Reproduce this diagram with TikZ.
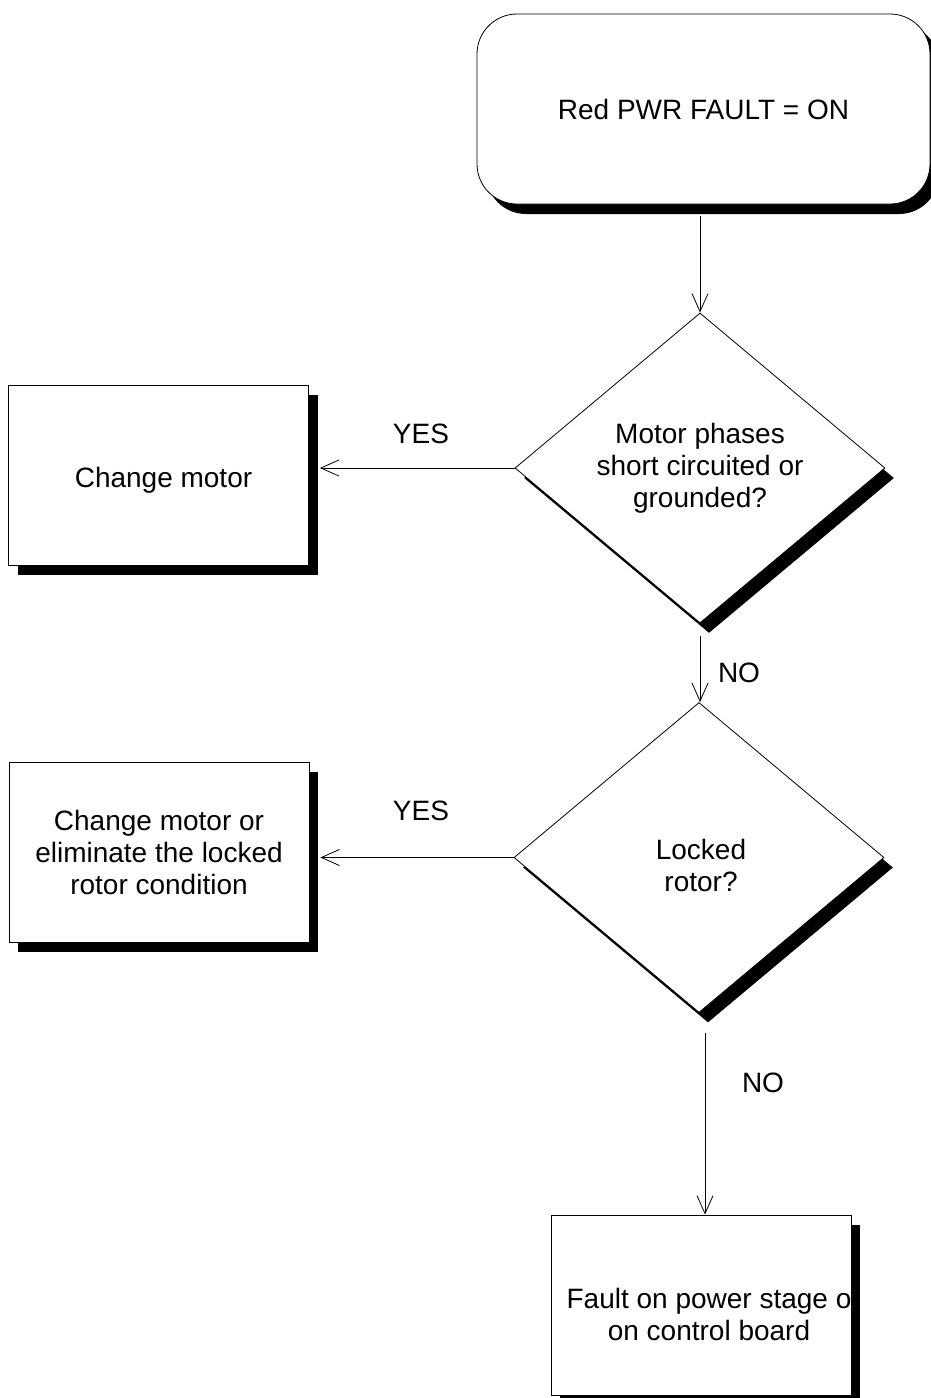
\documentclass[tikz,border=0pt]{standalone}
\usepackage{fontspec}
\setmainfont{Liberation Sans}
\usetikzlibrary{arrows.meta,calc,positioning,shapes.geometric,shadows}

\begin{document}
\begin{tikzpicture}[
    x=1pt, y=-1pt,
    font=\fontsize{28}{32}\selectfont,
    dropped/.style={drop shadow={shadow xshift=9pt, shadow yshift=-10pt,
                    fill=black, opacity=1}},
    process/.style={draw, line width=0.8pt, fill=white, dropped, align=center,
                    minimum width=300pt, minimum height=180pt, inner sep=0pt},
    terminal/.style={process, rounded corners=40pt, minimum width=453pt,
                     minimum height=190pt},
    decision/.style={diamond, draw, line width=0.8pt, fill=white, dropped,
                     shape aspect=1.2, inner sep=0pt, align=center,
                     minimum width=370pt, minimum height=310pt},
    arrow/.style={-{Straight Barb[length=18pt, width=16pt]}, line width=0.8pt},
    answer/.style={inner sep=0pt},
    inside/.style={align=center, inner sep=0pt}
]
\useasboundingbox (0,0) rectangle (931,1398);

\node[terminal] (start) at (703.5,109) {Red PWR FAULT = ON};
\node[decision] (phases) at (700,468)
    {Motor phases\\short circuited or\\grounded?};
\node[process, label={[inside, name=chgmotortext, xshift=5pt, yshift=-5pt]
    center:Change motor}] (chgmotor) at (158.5,475) {};
\node[decision, label={[inside, name=lockedtext, xshift=2pt, yshift=-8pt]
    center:Locked\\rotor?}] (locked) at (699,857.5) {};
\node[process] (chglocked) at (159,852)
    {Change motor or\\eliminate the locked\\rotor condition};
\node[process, label={[inside, name=faulttext, xshift=8pt, yshift=-9pt]
    center:Fault on power stage o\\on control board}] (fault) at (701,1305) {};

\node[answer] (yes1) at (421,434) {YES};
\node[answer] (no1) at (739,673) {NO};
\node[answer] (yes2) at (421,811) {YES};
\node[answer] (no2) at (763,1083) {NO};

\draw[arrow, shorten <=12pt] (phases.north |- start.south) -- (phases.north);
\draw[arrow, shorten >=11pt] (phases.west) -- (chgmotor.east |- phases.west);
\draw[arrow, shorten <=13pt] (phases.south) -- (phases.south |- locked.north);
\draw[arrow, shorten >=11pt] (locked.west) -- (chglocked.east |- locked.west);
\coordinate (nofrom) at ($(locked.south)+(6,20)$);
\draw[arrow] (nofrom) -- (nofrom |- fault.north);
\end{tikzpicture}
\end{document}
